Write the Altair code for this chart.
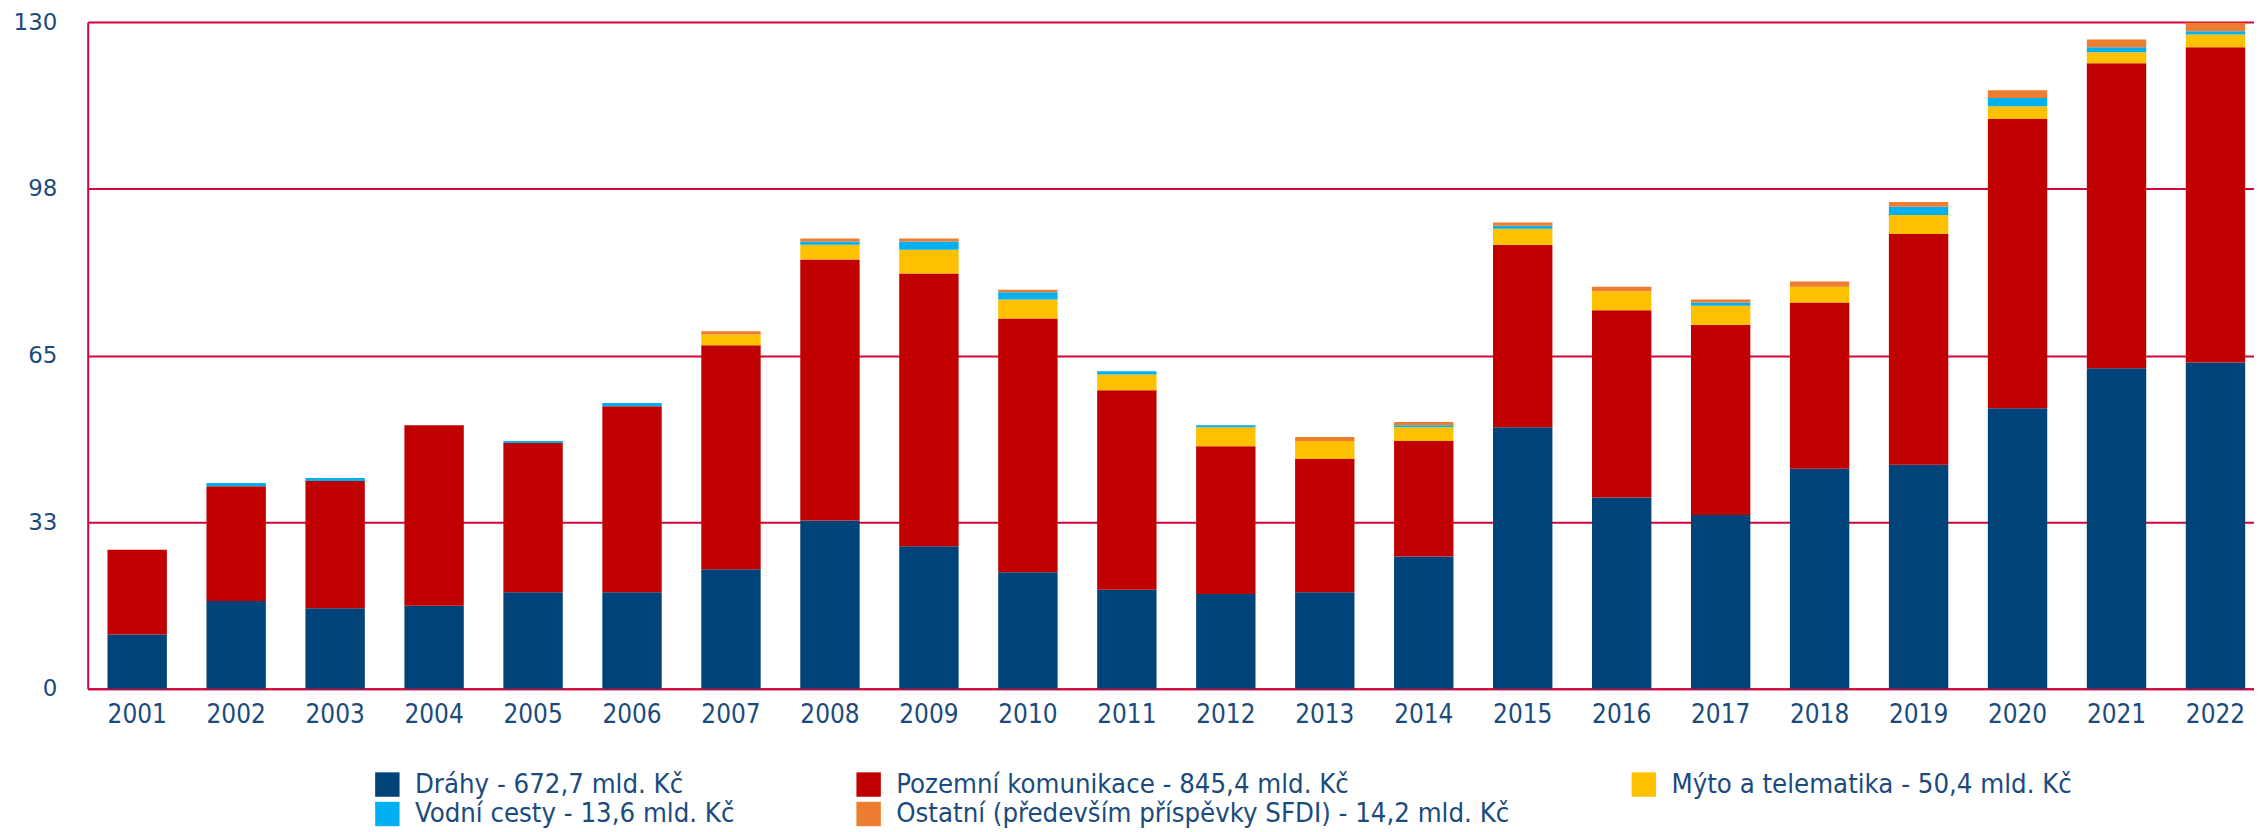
import altair as alt
import pandas as pd

years = ["2001", "2002", "2003", "2004", "2005", "2006", "2007", "2008", "2009", "2010", "2011",
         "2012", "2013", "2014", "2015", "2016", "2017", "2018", "2019", "2020", "2021", "2022"]

drahy = [10.6, 17.1, 15.7, 16.2, 18.8, 18.8, 23.3, 32.8, 27.8, 22.7, 19.3,
         18.5, 18.8, 25.8, 51.0, 37.3, 33.9, 42.9, 43.7, 54.7, 62.5, 63.6]
pozemni = [16.5, 22.4, 24.8, 35.2, 29.1, 36.3, 43.7, 50.9, 53.2, 49.5, 38.9,
           28.8, 26.0, 22.5, 35.6, 36.5, 37.1, 32.4, 45.0, 56.4, 59.5, 61.5]
myto = [0, 0, 0, 0, 0, 0, 2.1, 2.9, 4.6, 3.7, 3.1,
        3.7, 3.5, 2.7, 3.1, 3.7, 3.7, 3.1, 3.7, 2.5, 2.1, 2.5]
vodni = [0, 0.6, 0.6, 0, 0.4, 0.6, 0, 0.6, 1.6, 1.4, 0.6,
         0.4, 0, 0.4, 0.6, 0, 0.6, 0, 1.6, 1.6, 1.0, 0.6]
ostatni = [0, 0, 0, 0, 0, 0, 0.6, 0.6, 0.6, 0.5, 0,
           0, 0.8, 0.6, 0.6, 0.9, 0.6, 1.0, 0.9, 1.5, 1.5, 1.7]

series = [
    "Dráhy - 672,7 mld. Kč",
    "Pozemní komunikace - 845,4 mld. Kč",
    "Mýto a telematika - 50,4 mld. Kč",
    "Vodní cesty - 13,6 mld. Kč",
    "Ostatní (především příspěvky SFDI) - 14,2 mld. Kč",
]
colors = ["#004379", "#C00000", "#FFC000", "#00B0F0", "#ED7D31"]
y_ticks = [0, 32.5, 65, 97.5, 130]

values = [drahy, pozemni, myto, vodni, ostatni]
rows = []
for si, (name, vals) in enumerate(zip(series, values)):
    for yr, v in zip(years, vals):
        rows.append({"rok": yr, "rada": name, "hodnota": v, "poradi": si})
df = pd.DataFrame(rows)

RED = "#D0063C"
TXT = "#1B4B7D"
COND = "DejaVu Sans Condensed, Liberation Sans Narrow, DejaVu Sans"

chart = alt.Chart(df).mark_bar().encode(
    x=alt.X("rok:N", sort=years,
            scale=alt.Scale(paddingInner=0.4, paddingOuter=0.2),
            axis=alt.Axis(title=None, labelAngle=0, ticks=False, grid=False,
                          domain=True, domainColor=RED, domainWidth=2,
                          labelFont=COND, labelFontSize=26, labelColor=TXT,
                          labelPadding=13)),
    y=alt.Y("hodnota:Q", stack="zero",
            scale=alt.Scale(domain=[0, 130], nice=False),
            axis=alt.Axis(title=None, values=y_ticks, format=".0f", ticks=False,
                          grid=True, gridColor=RED, gridWidth=2,
                          domain=True, domainColor=RED, domainWidth=2,
                          labelFont="DejaVu Sans", labelFontSize=23, labelColor=TXT,
                          labelPadding=31)),
    color=alt.Color("rada:N", scale=alt.Scale(domain=series, range=colors),
                    legend=alt.Legend(title=None, orient="none", legendX=287, legendY=751,
                                      direction="horizontal", columns=3, columnPadding=121,
                                      rowPadding=1, symbolType="square", symbolSize=600,
                                      symbolStrokeWidth=0, labelFont=COND, labelFontSize=27.4,
                                      labelColor=TXT, labelOffset=14, labelLimit=2000)),
    order=alt.Order("poradi:Q", sort="ascending"),
).properties(
    width=2185, height=669,
    autosize=alt.AutoSizeParams(type="none"),
    padding={"left": 80, "top": 12.7, "right": -11, "bottom": 142.3},
).configure_view(stroke=None)

chart.save("out.html", embed_options={"renderer": "svg", "actions": False})
